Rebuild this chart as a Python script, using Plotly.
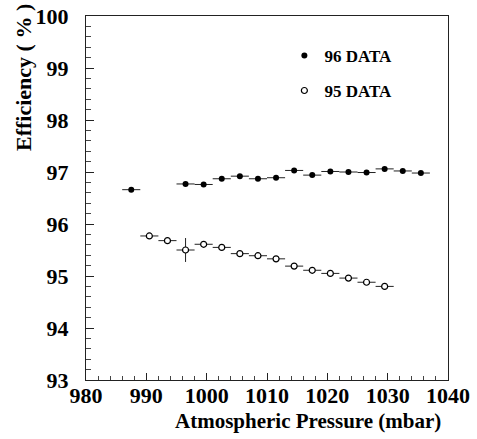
import plotly.graph_objects as go

# 96 data (filled dots)
p96 = [987.5, 996.5, 999.5, 1002.5, 1005.5, 1008.5, 1011.5, 1014.5,
       1017.5, 1020.5, 1023.5, 1026.5, 1029.5, 1032.5, 1035.5]
eff96 = [96.66, 96.77, 96.76, 96.87, 96.92, 96.87, 96.89, 97.03,
         96.94, 97.01, 97.00, 96.99, 97.06, 97.02, 96.98]
err96 = [0.02] * 15

# 95 data (open circles)
p95 = [990.5, 993.5, 996.5, 999.5, 1002.5, 1005.5, 1008.5,
       1011.5, 1014.5, 1017.5, 1020.5, 1023.5, 1026.5, 1029.5]
eff95 = [95.77, 95.68, 95.50, 95.61, 95.55, 95.43, 95.39,
         95.33, 95.19, 95.11, 95.05, 94.96, 94.88, 94.80]
err95 = [0.02, 0.02, 0.23, 0.02, 0.02, 0.02, 0.02,
         0.02, 0.02, 0.02, 0.02, 0.02, 0.02, 0.02]

bin_half = 1.5
serif = "Liberation Serif"

fig = go.Figure()
fig.add_trace(go.Scatter(
    x=p96, y=eff96, mode="markers", name="96 DATA", legendgroup="a",
    marker=dict(symbol="circle", size=6, color="black"),
    error_x=dict(type="constant", value=bin_half, width=0, thickness=1, color="#222"),
    error_y=dict(type="data", array=err96, width=0, thickness=1, color="#222"),
))
fig.add_trace(go.Scatter(
    x=p95, y=eff95, mode="markers", name="95 DATA", legendgroup="b",
    marker=dict(symbol="circle", size=6, color="white", line=dict(color="black", width=1.2)),
    error_x=dict(type="constant", value=bin_half, width=0, thickness=1, color="#222"),
    error_y=dict(type="data", array=err95, width=0, thickness=1, color="#222"),
))

fig.update_xaxes(
    range=[980, 1040], dtick=10, ticks="inside", ticklen=7, tickwidth=1,
    tickcolor="#222", showline=True, linecolor="#222", linewidth=1, mirror=True,
    showgrid=False, zeroline=False, ticklabelstandoff=-4, automargin=False,
    tickfont=dict(family=serif, size=22, color="black", weight="bold"),
    minor=dict(dtick=2, ticks="inside", ticklen=4, tickcolor="#444"),
)
fig.update_yaxes(
    range=[93, 100], dtick=1, ticks="inside", ticklen=8, tickwidth=1,
    tickcolor="#222", showline=True, linecolor="#222", linewidth=1, mirror=True,
    showgrid=False, zeroline=False, ticklabelstandoff=12, automargin=False,
    tickfont=dict(family=serif, size=22, color="black", weight="bold"),
    minor=dict(dtick=0.2, ticks="inside", ticklen=5, tickcolor="#444"),
)

fig.add_annotation(
    text="Atmospheric Pressure (mbar)", xref="paper", yref="paper",
    x=0.614, y=-0.113, xanchor="center", yanchor="middle", showarrow=False,
    font=dict(family=serif, size=21, color="black", weight="bold"),
)
fig.add_annotation(
    text="Efficiency ( % )", xref="paper", yref="paper", textangle=-90,
    x=-0.171, y=0.83, xanchor="center", yanchor="middle", showarrow=False,
    font=dict(family=serif, size=22, color="black", weight="bold"),
)

fig.update_layout(
    width=477, height=439,
    margin=dict(l=86, r=29, t=16, b=59),
    paper_bgcolor="white", plot_bgcolor="white",
    showlegend=True,
    legend=dict(
        x=0.548, y=0.94, xanchor="left", yanchor="top",
        bgcolor="rgba(0,0,0,0)", tracegroupgap=10,
        font=dict(family=serif, size=17, color="black", weight="bold"),
    ),
)

fig.write_html("out.html", config={"displayModeBar": False},
               post_script="document.body.style.margin='0';")
